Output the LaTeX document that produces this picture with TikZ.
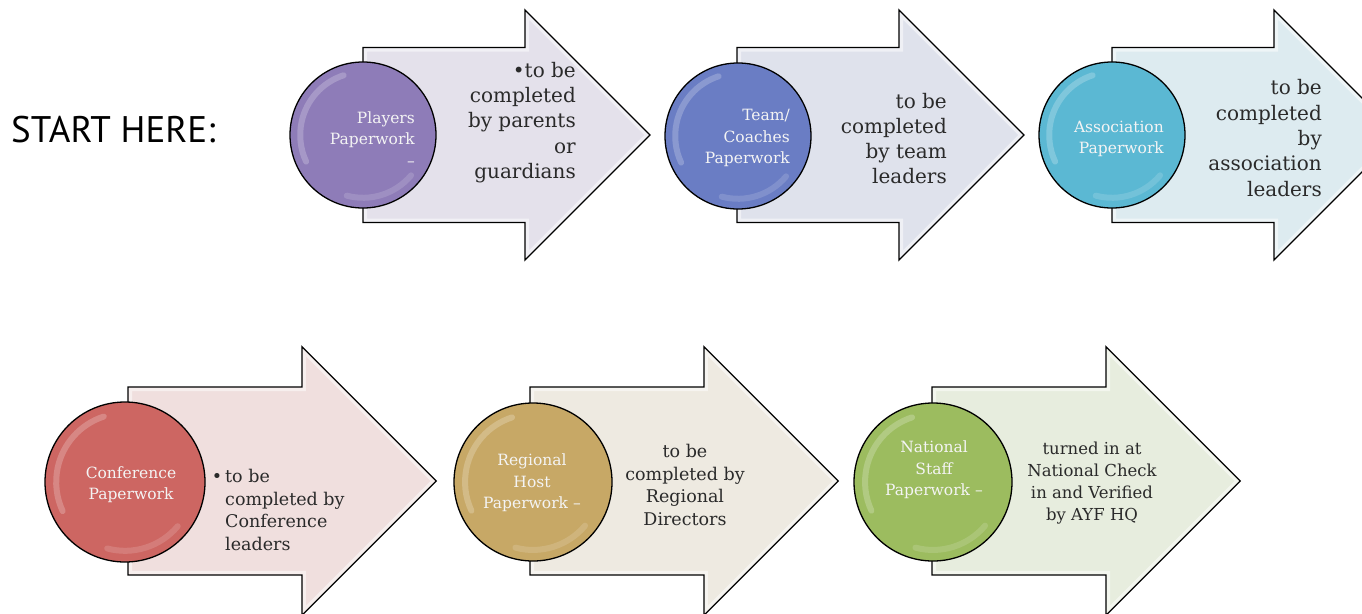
\documentclass[tikz,border=0pt]{standalone}
\usepackage{fontspec}
\setmainfont{DejaVu Serif}
\newfontfamily\startfont{PT Sans}
\definecolor{purpleC}{HTML}{8E7CB8}
\definecolor{purpleF}{HTML}{E4E1EB}
\definecolor{blueC}{HTML}{6A7DC4}
\definecolor{blueF}{HTML}{DFE2EC}
\definecolor{tealC}{HTML}{5BB8D3}
\definecolor{tealF}{HTML}{DDEBF0}
\definecolor{redC}{HTML}{CD6662}
\definecolor{redF}{HTML}{F0DFDE}
\definecolor{goldC}{HTML}{C7A866}
\definecolor{goldF}{HTML}{EEEAE1}
\definecolor{greenC}{HTML}{9CBC5F}
\definecolor{greenF}{HTML}{E7EDDE}
\definecolor{txt}{HTML}{2A2A2A}
\definecolor{ctxt}{HTML}{F4F4F4}
\tikzset{
  outline/.style={draw=black, line width=1.3pt, line join=miter},
  bevel/.style={draw=white, opacity=0.5, line width=8pt, line join=miter},
  bigtext/.style={inner sep=0pt, text=txt, font=\fontsize{20}{25.3}\selectfont},
  smalltext/.style={inner sep=0pt, text=txt, font=\fontsize{17.5}{22.6}\selectfont},
  circtext/.style={inner sep=0pt, text=ctxt, font=\fontsize{15.5}{21.3}\selectfont},
  ball/.style={circle, draw=black, line width=1.3pt, inner sep=0pt},
  gloss/.style={draw=white, opacity=0.22, line width=6pt, line cap=round},
}
% #1 x0, #2 cy, #3 scale, #4 fill
\newcommand\paperarrow[4]{%
\begin{scope}[shift={(#1,#2)},scale=#3]
 \fill[#4] (0,-87.5) -- (162,-87.5) -- (162,-125) -- (287,0) -- (162,125) -- (162,87.5) -- (0,87.5) -- cycle;
 \begin{scope}
  \clip (0,-87.5) -- (162,-87.5) -- (162,-125) -- (287,0) -- (162,125) -- (162,87.5) -- (0,87.5) -- cycle;
  \draw[bevel] (0,-87.5) -- (162,-87.5) -- (162,-125) -- (287,0) -- (162,125) -- (162,87.5) -- (0,87.5) -- cycle;
 \end{scope}
 \draw[outline] (0,-87.5) -- (162,-87.5) -- (162,-125) -- (287,0) -- (162,125) -- (162,87.5) -- (0,87.5) -- cycle;
\end{scope}}
% #1 name, #2 x, #3 y, #4 radius, #5 colour
\newcommand\paperball[5]{%
 \node[ball, fill=#5, minimum size={2*#4pt}] (#1) at (#2,#3) {};
 \draw[gloss] (#1.center) ++(108:{0.86*#4pt}) arc[start angle=108, end angle=205, radius={0.86*#4pt}];
 \draw[gloss, opacity=0.15] (#1.center) ++(255:{0.86*#4pt}) arc[start angle=255, end angle=320, radius={0.86*#4pt}];
}
\begin{document}
\begin{tikzpicture}[x=1pt,y=-1pt]
\useasboundingbox (0,0) rectangle (1362,613);
\clip (0,0) rectangle (1362,613);
\fill[white] (0,0) rectangle (1362,613);

\node[anchor=west, inner sep=0pt, font=\startfont\fontsize{37}{40}\selectfont] (start) at (11,130) {START HERE:};

% row 1
\paperarrow{363}{135}{1}{purpleF}
\paperarrow{737}{135}{1}{blueF}
\paperarrow{1112}{135}{1}{tealF}
\paperball{c1}{363}{135}{73}{purpleC}
\paperball{c2}{738}{136}{73}{blueC}
\paperball{c3}{1112}{135}{73}{tealC}

\node[bigtext, anchor=east, align=right] (t1) at (576,122.5) {•to be\\completed\\by parents\\or\\guardians};
\node[bigtext, anchor=east, align=right] (t2) at (947,138.5) {to be\\completed\\by team\\leaders};
\node[bigtext, anchor=east, align=right] (t3) at (1322,138) {to be\\completed\\by\\association\\leaders};

\node[circtext, anchor=east, align=right] (l1) at (415,139) {Players\\Paperwork\\–};
\node[circtext, anchor=east, align=right] (l2) at (790,138) {Team/\\Coaches\\Paperwork};
\node[circtext, anchor=east, align=right] (l3) at (1164,139) {Association\\Paperwork};

% row 2
\paperarrow{128}{481}{1.074}{redF}
\paperarrow{530}{481}{1.074}{goldF}
\paperarrow{932}{481}{1.074}{greenF}
\paperball{c4}{125}{482}{80}{redC}
\paperball{c5}{533}{482}{79}{goldC}
\paperball{c6}{933}{482}{79}{greenC}

\node[circtext, align=center] (l4) at (131,484.5) {Conference\\Paperwork};
\node[circtext, align=center] (l5) at (532,483) {Regional\\Host\\Paperwork –};
\node[circtext, align=center] (l6) at (934,470) {National\\Staff\\Paperwork –};

\node[smalltext, anchor=west, align=left] (t4) at (225,510) {\llap{•\hspace{3pt}}to be\\completed by\\Conference\\leaders};
\node[smalltext, align=center] (t5) at (685,485) {to be\\completed by\\Regional\\Directors};
\node[smalltext, align=center, font=\fontsize{16.5}{22}\selectfont] (t6) at (1092,483) {turned in at\\National Check\\in and Verified\\by AYF HQ};
\end{tikzpicture}
\end{document}
